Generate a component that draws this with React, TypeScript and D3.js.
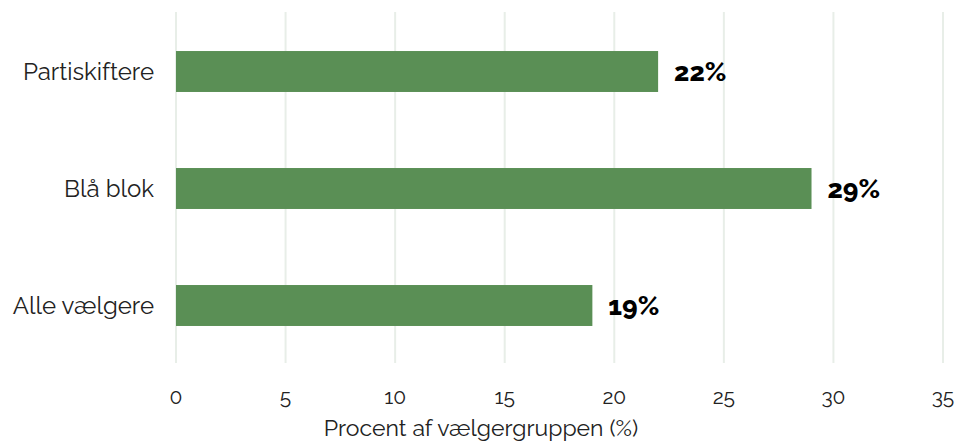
import React from "react";
import * as d3 from "d3";

const categories = ["Partiskiftere", "Blå blok", "Alle vælgere"];
const values = [22, 29, 19];
const xTicks = [0, 5, 10, 15, 20, 25, 30, 35];
const xTitle = "Procent af vælgergruppen (%)";

const W = 958;
const H = 441;
const FONT = "Raleway, Lato, sans-serif";

export default function App() {
  const x = d3.scaleLinear().domain([0, 35]).range([176, 943]);
  const y = d3
    .scaleBand<string>()
    .domain(categories)
    .range([13, 364])
    .paddingInner(0.65)
    .paddingOuter(0.325);

  return (
    <svg width={W} height={H} style={{ position: "absolute", left: 0, top: 0 }}>
      <rect width={W} height={H} fill="#fff" />
      {/* vertical grid */}
      {xTicks.map((t) => (
        <line
          key={"g" + t}
          x1={x(t)}
          x2={x(t)}
          y1={12}
          y2={363}
          stroke="#e8eee8"
          strokeWidth={2}
        />
      ))}
      {/* bars */}
      {categories.map((c, i) => (
        <rect
          key={c}
          x={x(0)}
          y={y(c)}
          width={x(values[i]) - x(0)}
          height={y.bandwidth()}
          fill="#5a8f55"
        />
      ))}
      {/* value labels */}
      {categories.map((c, i) => (
        <text
          key={"v" + c}
          x={x(values[i]) + 16}
          y={(y(c) as number) + y.bandwidth() / 2}
          dy="0.36em"
          fontFamily={FONT}
          fontWeight={800}
          fontSize={26.5}
          fill="#000"
        >
          {values[i]}%
        </text>
      ))}
      {/* category labels */}
      {categories.map((c) => (
        <text
          key={"c" + c}
          x={154}
          y={(y(c) as number) + y.bandwidth() / 2}
          dy="0.36em"
          textAnchor="end"
          fontFamily={FONT}
          fontSize={24}
          fill="#222"
        >
          {c}
        </text>
      ))}
      {/* x tick labels */}
      {xTicks.map((t) => (
        <text
          key={"t" + t}
          x={x(t)}
          y={404}
          textAnchor="middle"
          fontFamily={FONT}
          fontSize={21}
          fill="#222"
        >
          {t}
        </text>
      ))}
      <text
        x={481}
        y={436}
        textAnchor="middle"
        fontFamily={FONT}
        fontSize={23}
        fill="#222"
      >
        {xTitle}
      </text>
    </svg>
  );
}
